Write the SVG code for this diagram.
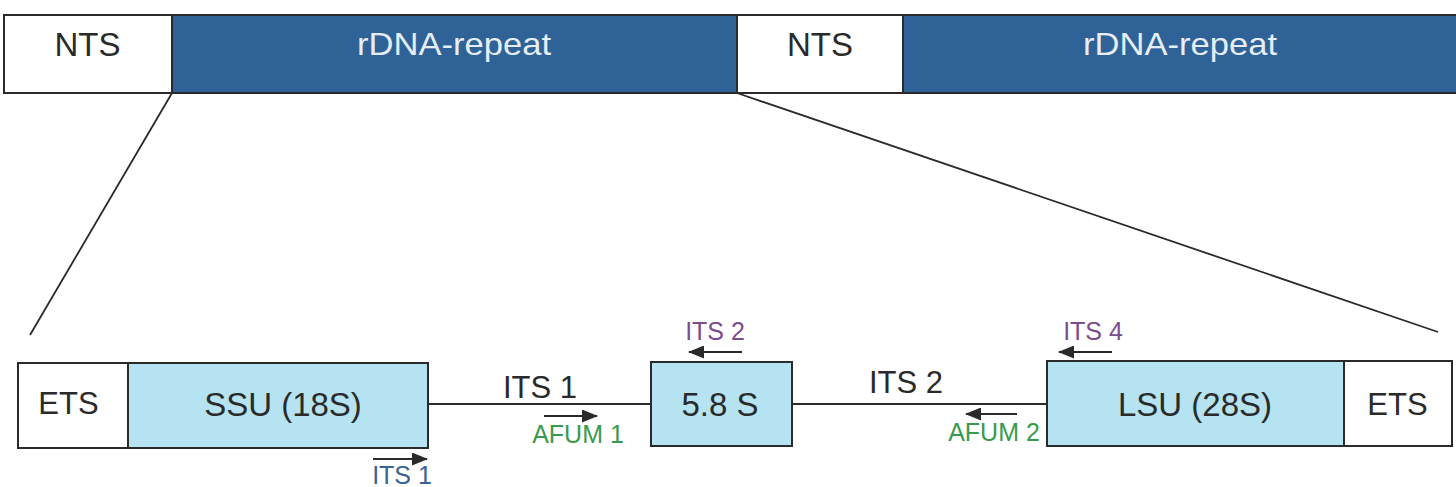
<svg xmlns="http://www.w3.org/2000/svg" width="1456" height="487" viewBox="0 0 1456 487">
<style>
.box{stroke:#2a2a2a;stroke-width:2}
.w{fill:#ffffff}
.dk{fill:#2f6297}
.lt{fill:#b5e3f1}
.ln{stroke:#2a2a2a;stroke-width:1.8;fill:none}
.ar{stroke:#2a2a2a;stroke-width:2.2;fill:none}
text{font-family:"Liberation Sans",Arial,sans-serif;text-anchor:middle}
.big{font-size:33px;fill:#2a2a2a}
.wt{font-size:32px;fill:#e6edf5}
.med{font-size:31px;fill:#2a2a2a}
.gr{font-size:25px;fill:#3a9a4c}
.pu{font-size:25px;fill:#7b4d8d}
.bl{font-size:25px;fill:#3a6394}
</style>
<defs>
<marker id="ah" viewBox="0 0 16 13" refX="15" refY="6.5" markerWidth="16" markerHeight="13" markerUnits="userSpaceOnUse" orient="auto">
<path d="M0,0 L16,6.5 L0,13 z" fill="#2a2a2a"/>
</marker>
</defs>
<rect width="1456" height="487" fill="#ffffff"/>
<g id="connectors">
<line class="ln" x1="172" y1="93" x2="30" y2="335"/>
<line class="ln" x1="737" y1="93" x2="1438" y2="332"/>
<line class="ln" x1="428" y1="404" x2="651" y2="404"/>
<line class="ln" x1="792" y1="404" x2="1047" y2="404"/>
</g>
<g id="nts1"><rect class="box w" x="4" y="15" width="168" height="78"/><text class="big" x="87.5" y="56">NTS</text></g>
<g id="rdna1"><rect class="box dk" x="172" y="15" width="565" height="78"/><text class="wt" x="454" y="55" textLength="194" lengthAdjust="spacingAndGlyphs">rDNA-repeat</text></g>
<g id="nts2"><rect class="box w" x="737" y="15" width="166" height="78"/><text class="big" x="820" y="56">NTS</text></g>
<g id="rdna2"><rect class="box dk" x="903" y="15" width="560" height="78"/><text class="wt" x="1180" y="55" textLength="194" lengthAdjust="spacingAndGlyphs">rDNA-repeat</text></g>
<g id="ets1"><rect class="box w" x="18" y="363" width="110" height="85"/><text class="med" x="68.5" y="414">ETS</text></g>
<g id="ssu"><rect class="box lt" x="128" y="363" width="300" height="85"/><text class="big" x="283" y="416">SSU (18S)</text></g>
<g id="s58"><rect class="box lt" x="651" y="362" width="141" height="84"/><text class="big" x="720" y="416">5.8 S</text></g>
<g id="lsu"><rect class="box lt" x="1047" y="361" width="297" height="85"/><text class="big" x="1195" y="416">LSU (28S)</text></g>
<g id="ets2"><rect class="box w" x="1344" y="361" width="108" height="85"/><text class="med" x="1397.5" y="415">ETS</text></g>
<g id="labels">
<text class="med" x="540" y="398">ITS 1</text>
<text class="med" x="906" y="393">ITS 2</text>
<line class="ar" x1="544" y1="416" x2="597" y2="416" marker-end="url(#ah)"/>
<text class="gr" x="578" y="443">AFUM 1</text>
<line class="ar" x1="742" y1="352" x2="689" y2="352" marker-end="url(#ah)"/>
<text class="pu" x="715" y="340">ITS 2</text>
<line class="ar" x1="1017" y1="414" x2="966" y2="414" marker-end="url(#ah)"/>
<text class="gr" x="994" y="441">AFUM 2</text>
<line class="ar" x1="1112" y1="352" x2="1059" y2="352" marker-end="url(#ah)"/>
<text class="pu" x="1093" y="340">ITS 4</text>
<line class="ar" x1="373" y1="459" x2="427" y2="459" marker-end="url(#ah)"/>
<text class="bl" x="402" y="484">ITS 1</text>
</g>
</svg>
